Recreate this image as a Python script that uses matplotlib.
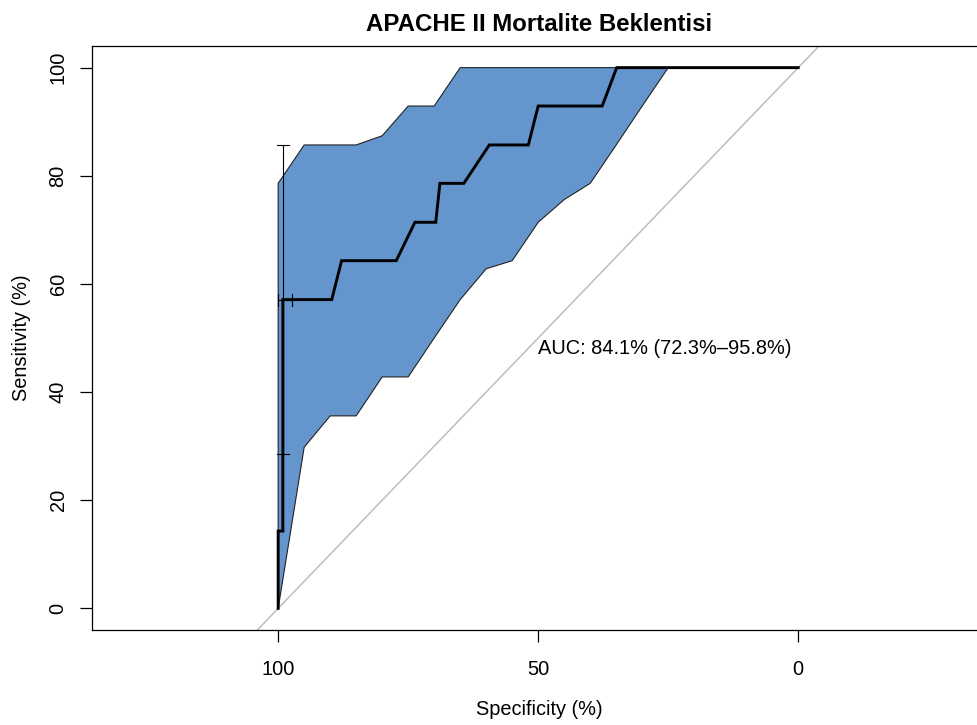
import numpy as np
import matplotlib
matplotlib.use("Agg")
import matplotlib.pyplot as plt

plt.rcParams["font.family"] = ["Liberation Sans", "DejaVu Sans"]

# Empirical ROC curve (specificity %, sensitivity %)
roc_spec = [100, 100, 99.1, 99.1, 89.7, 87.8, 77.3, 73.7, 69.7, 68.9, 64.3,
            59.4, 51.9, 50.0, 37.7, 34.9, 0]
roc_sens = [0, 14.3, 14.3, 57.1, 57.1, 64.3, 64.3, 71.4, 71.4, 78.6, 78.6,
            85.7, 85.7, 92.9, 92.9, 100, 100]

# Bootstrap confidence band of sensitivity on a grid of specificities
band_spec = [100, 95, 90, 85, 80, 75, 70, 65, 60, 55, 50, 45, 40, 35, 30,
             25, 20, 15, 10, 5, 0]
band_upper = [78.6, 85.7, 85.7, 85.7, 87.4, 92.9, 92.9, 100, 100, 100, 100,
              100, 100, 100, 100, 100, 100, 100, 100, 100, 100]
band_lower = [0, 29.8, 35.6, 35.6, 42.8, 42.8, 50.0, 57.1, 62.8, 64.3, 71.4,
              75.6, 78.6, 85.7, 92.9, 100, 100, 100, 100, 100, 100]

# Best threshold with its confidence intervals
best_spec = 99.1
best_sens = 57.1
best_sens_ci = [28.6, 85.7]
best_spec_ci = [97.3, 100.0]

# Area under the curve and its confidence interval (%)
auc_value = 84.1
auc_ci = [72.3, 95.8]

title = "APACHE II Mortalite Beklentisi"
x_ticks = [100, 50, 0]
y_ticks = [0, 20, 40, 60, 80, 100]

W, H = 977, 725
fig = plt.figure(figsize=(W / 100, H / 100), dpi=100)
ax_left, ax_right, ax_top, ax_bottom = 92, 987, 46, 630
ax = fig.add_axes([ax_left / W, (H - ax_bottom) / H,
                   (ax_right - ax_left) / W, (ax_bottom - ax_top) / H])

ax.set_xlim(135.8, -36.3)
ax.set_ylim(-4, 104)

# Confidence band polygon
poly_x = np.concatenate([band_spec, band_spec[::-1]])
poly_y = np.concatenate([band_upper, band_lower[::-1]])
ax.fill(poly_x, poly_y, facecolor="#6495CC", edgecolor="#222222",
        linewidth=0.8, zorder=2)

# Chance diagonal
ax.axline((100, 0), (0, 100), color="#BEBEBE", linewidth=1.1, zorder=1)

# ROC curve
ax.plot(roc_spec, roc_sens, color="black", linewidth=2.1, zorder=4,
        solid_joinstyle="miter")

# Threshold cross with CI bars
cap_x = 1.1
cap_y = 1.1
ax.plot([best_spec, best_spec], best_sens_ci, color="black", lw=0.8, zorder=5)
for s in best_sens_ci:
    ax.plot([best_spec - cap_x, best_spec + cap_x], [s, s], color="black",
            lw=0.8, zorder=5)
ax.plot(best_spec_ci, [best_sens, best_sens], color="black", lw=0.8, zorder=5)
for s in best_spec_ci:
    ax.plot([s, s], [best_sens - cap_y, best_sens + cap_y], color="black",
            lw=0.8, zorder=5)

# AUC annotation
auc_text = "AUC: {:.1f}% ({:.1f}%\u2013{:.1f}%)".format(auc_value, *auc_ci)
ax.text(50, 48.1, auc_text, ha="left", va="center", fontsize=14.4, zorder=6)

# Axes styling
ax.set_xticks(x_ticks)
ax.set_xticklabels([str(v) for v in x_ticks])
ax.set_yticks(y_ticks)
ax.set_yticklabels([str(v) for v in y_ticks], rotation=90, va="center")
ax.tick_params(axis="both", direction="out", length=8.6, width=0.9,
               labelsize=14.4, colors="black")
ax.tick_params(axis="x", pad=13)
ax.tick_params(axis="y", pad=9)
for side in ["left", "bottom", "top"]:
    ax.spines[side].set_linewidth(0.9)
    ax.spines[side].set_color("black")
ax.spines["right"].set_visible(False)

ax.set_title(title, fontsize=17.3, fontweight="bold", pad=11)
ax.set_xlabel("Specificity (%)", fontsize=14.4)
ax.set_ylabel("Sensitivity (%)", fontsize=14.4)
ax.xaxis.set_label_coords(0.5, -(700 - ax_bottom) / (ax_bottom - ax_top))
ax.yaxis.set_label_coords(-(ax_left - 31) / (ax_right - ax_left), 0.5)

fig.savefig("out.png", dpi=100)
